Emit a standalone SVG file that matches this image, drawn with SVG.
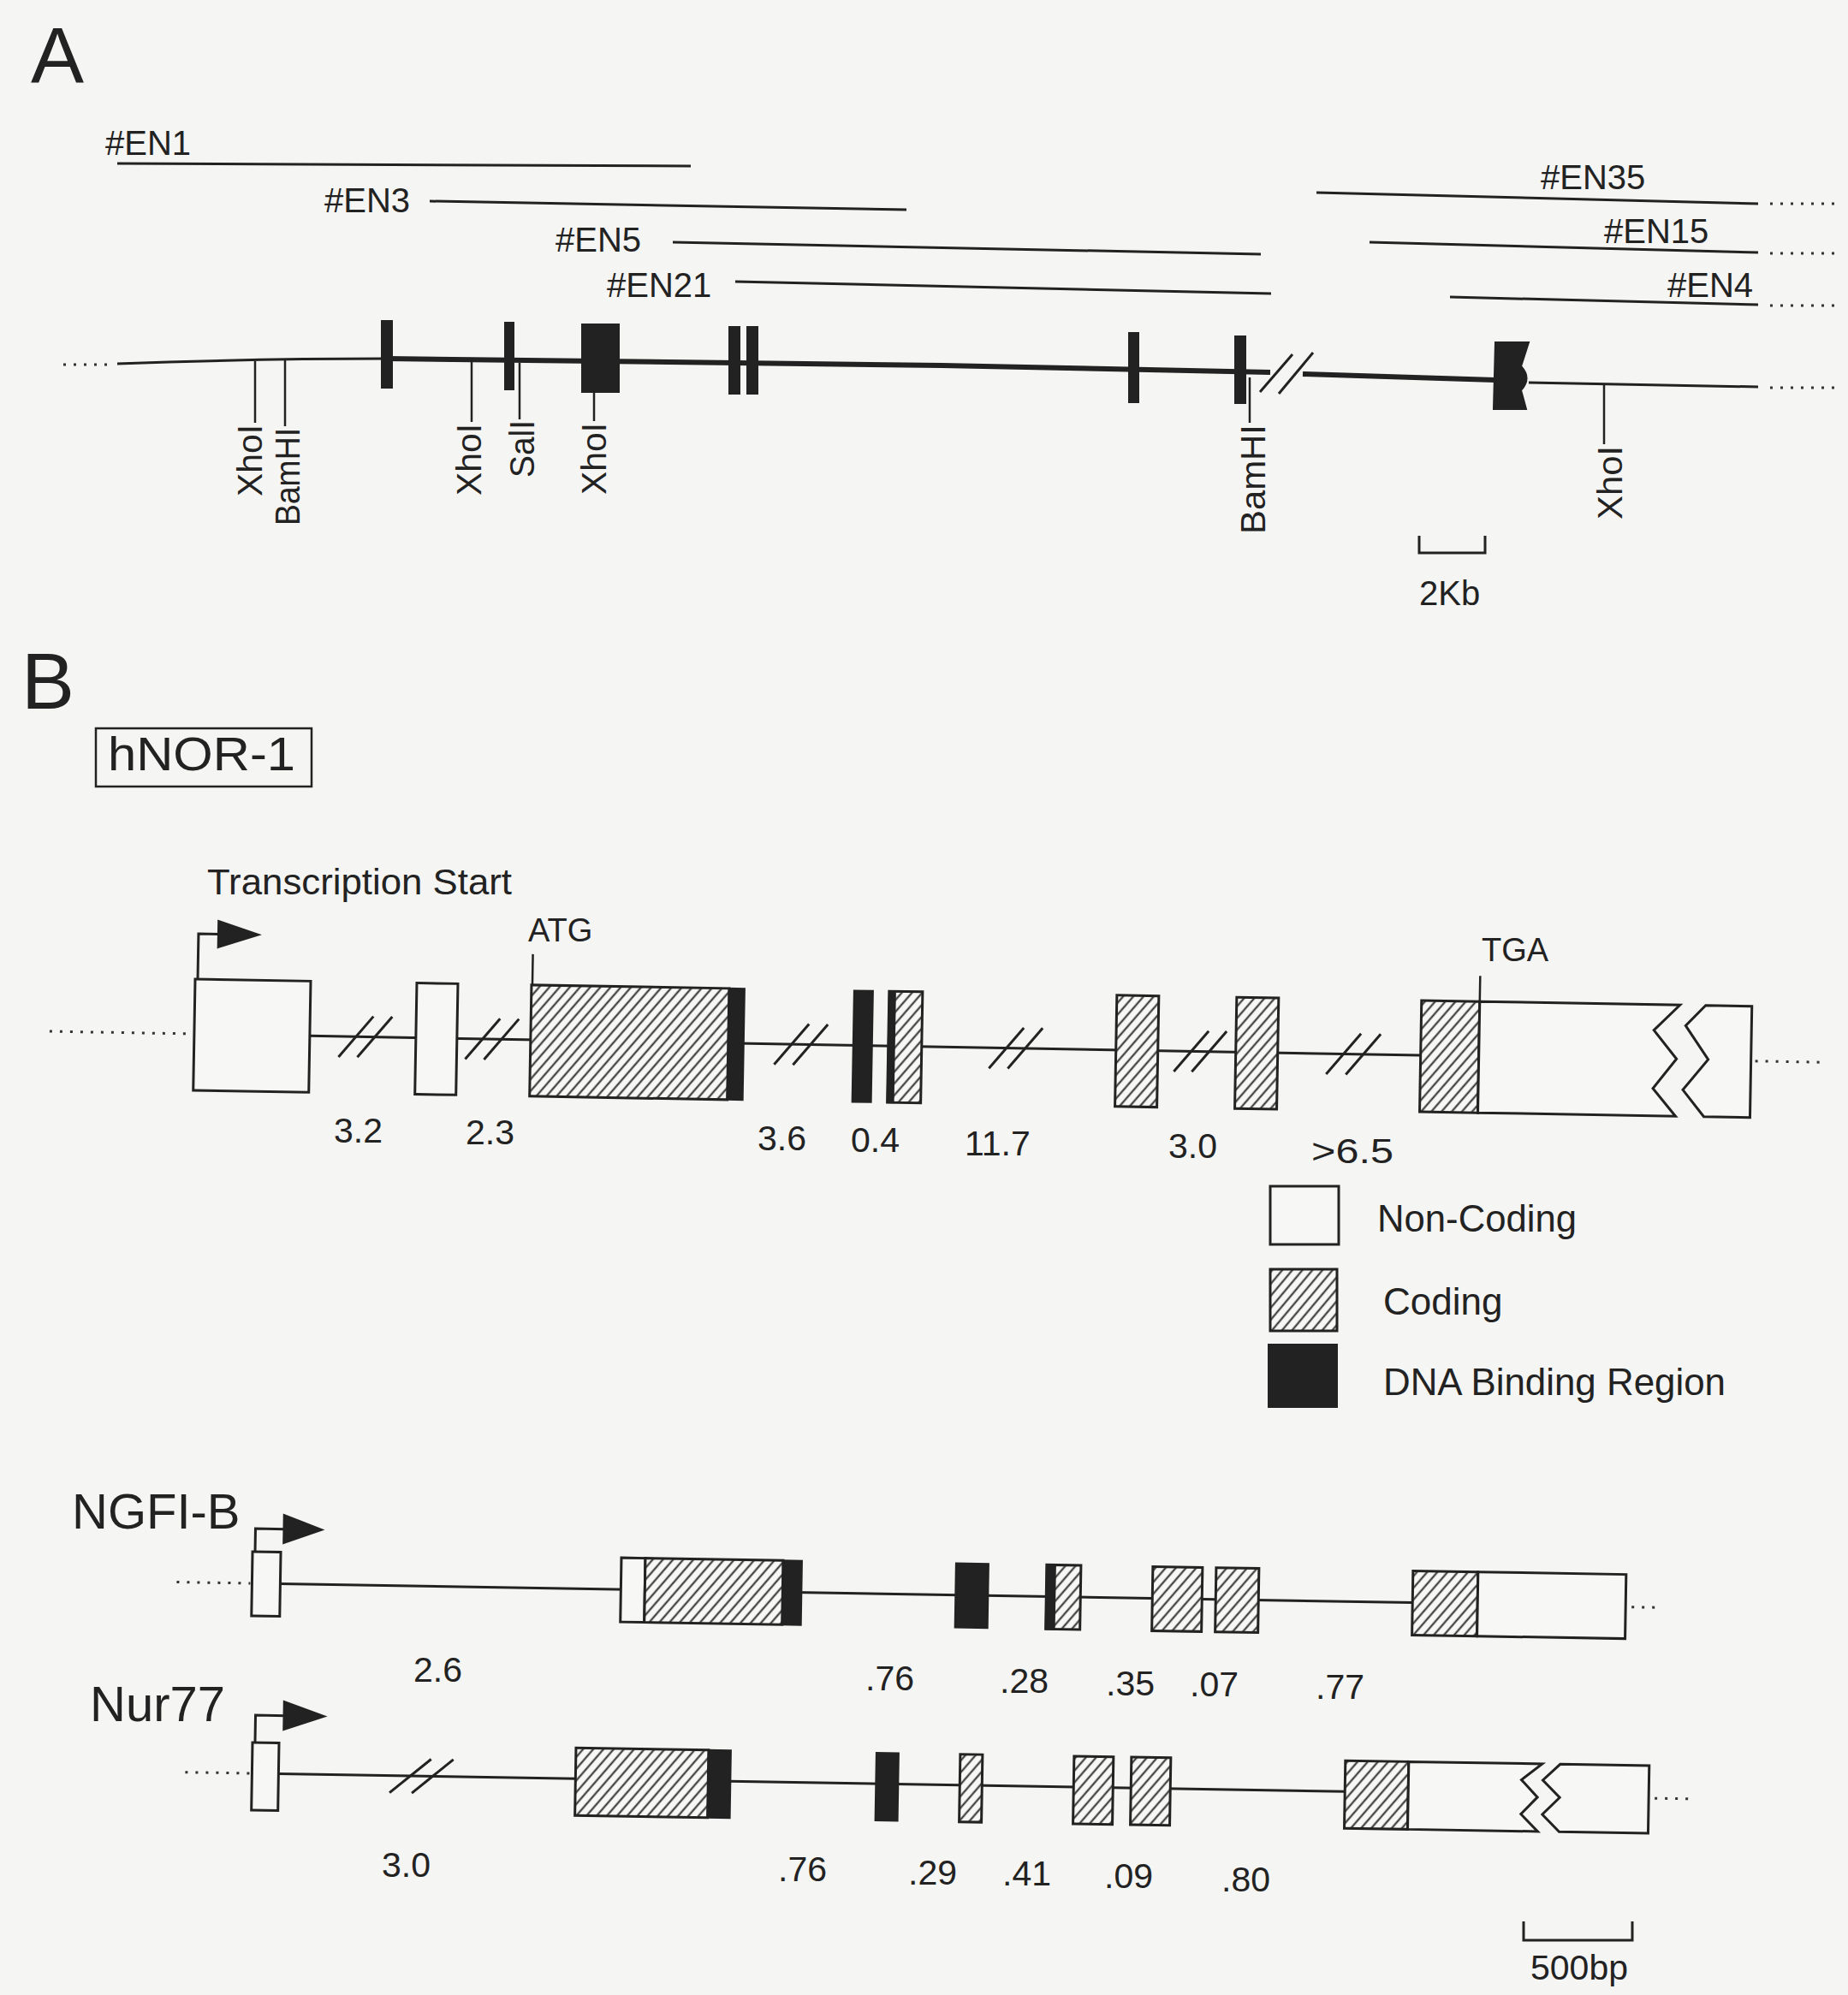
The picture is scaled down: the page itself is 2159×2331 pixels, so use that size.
<svg xmlns="http://www.w3.org/2000/svg" width="2159" height="2331" viewBox="0 0 2159 2331">
<defs>
<pattern id="hatch" patternUnits="userSpaceOnUse" width="9" height="9" patternTransform="rotate(40)">
<rect width="9" height="9" fill="#f7f7f5"/>
<line x1="4.5" y1="0" x2="4.5" y2="9" stroke="#2a2a2a" stroke-width="2"/>
</pattern>
</defs>
<style>
.ln{stroke:#222;stroke-width:3;fill:none}
.thk{stroke:#222;stroke-width:6;fill:none}
.tk{stroke:#222;stroke-width:2.5;fill:none}
.wh{fill:#f7f7f5;stroke:#222;stroke-width:3}
.ht{fill:url(#hatch);stroke:#222;stroke-width:3}
.bk{fill:#222;stroke:#222;stroke-width:2}
.dot{stroke:#333;stroke-width:3;stroke-dasharray:3 9;fill:none}
.t{font-family:"Liberation Sans",Arial,sans-serif;fill:#222}
.big{font-size:93px}
.en{font-size:40px}
.rs{font-size:40px}
.num{font-size:41px}
.lg{font-size:44px}
.nm{font-size:58px}
</style>
<rect width="2159" height="2331" fill="#f5f5f3"/>

<!-- Panel A -->
<text class="t big" x="36" y="97">A</text>

<g id="clones">
<text class="t en" x="123" y="181">#EN1</text>
<line class="ln" x1="137" y1="191" x2="807" y2="194"/>
<text class="t en" x="379" y="248">#EN3</text>
<line class="ln" x1="502" y1="235" x2="1059" y2="245"/>
<text class="t en" x="649" y="294">#EN5</text>
<line class="ln" x1="786" y1="283" x2="1473" y2="297"/>
<text class="t en" x="709" y="347">#EN21</text>
<line class="ln" x1="859" y1="329" x2="1485" y2="343"/>
<text class="t en" x="1800" y="221">#EN35</text>
<line class="ln" x1="1538" y1="225" x2="2054" y2="238"/>
<line class="dot" x1="2068" y1="238" x2="2145" y2="238"/>
<text class="t en" x="1874" y="284">#EN15</text>
<line class="ln" x1="1600" y1="283" x2="2054" y2="295"/>
<line class="dot" x1="2068" y1="296" x2="2145" y2="296"/>
<text class="t en" x="1948" y="347">#EN4</text>
<line class="ln" x1="1694" y1="347" x2="2054" y2="356"/>
<line class="dot" x1="2068" y1="357" x2="2145" y2="357"/>
</g>

<g id="genomic-map">
<line class="dot" x1="74" y1="426" x2="125" y2="426"/>
<path class="ln" d="M137,425 Q300,419 452,419"/>
<path class="thk" d="M452,419 L1100,427 L1484,435"/>
<line class="ln" x1="1472" y1="458" x2="1510" y2="414"/>
<line class="ln" x1="1494" y1="460" x2="1534" y2="412"/>
<path class="thk" d="M1522,437 L1747,444"/>
<path class="ln" d="M1786,447 L2054,452"/>
<line class="dot" x1="2068" y1="453" x2="2145" y2="453"/>
<rect class="bk" x="446" y="375" width="12" height="78"/>
<rect class="bk" x="590" y="377" width="10" height="78"/>
<rect class="bk" x="680" y="379" width="43" height="79"/>
<rect class="bk" x="852" y="382" width="12" height="78"/>
<rect class="bk" x="873" y="382" width="12" height="78"/>
<rect class="bk" x="1319" y="389" width="11" height="81"/>
<rect class="bk" x="1443" y="393" width="12" height="78"/>
<path class="bk" d="M1747,400 L1786,400 L1777,428 Q1790,442 1777,456 L1783,478 L1745,478 Z"/>
</g>

<g id="restriction-sites">
<line class="tk" x1="298" y1="422" x2="298" y2="494"/>
<text class="t rs" transform="translate(306,496) rotate(-90)" text-anchor="end" textLength="84" lengthAdjust="spacingAndGlyphs">XhoI</text>
<line class="tk" x1="333" y1="421" x2="333" y2="498"/>
<text class="t rs" transform="translate(350,500) rotate(-90)" text-anchor="end" textLength="114" lengthAdjust="spacingAndGlyphs">BamHI</text>
<line class="tk" x1="551" y1="423" x2="551" y2="493"/>
<text class="t rs" transform="translate(562,495) rotate(-90)" text-anchor="end" textLength="84" lengthAdjust="spacingAndGlyphs">XhoI</text>
<line class="tk" x1="607" y1="424" x2="607" y2="490"/>
<text class="t rs" transform="translate(624,491) rotate(-90)" text-anchor="end" textLength="67" lengthAdjust="spacingAndGlyphs">SalI</text>
<line class="tk" x1="694" y1="458" x2="694" y2="492"/>
<text class="t rs" transform="translate(708,494) rotate(-90)" text-anchor="end" textLength="84" lengthAdjust="spacingAndGlyphs">XhoI</text>
<line class="tk" x1="1460" y1="441" x2="1460" y2="494"/>
<text class="t rs" transform="translate(1478,496) rotate(-90)" text-anchor="end" textLength="128" lengthAdjust="spacingAndGlyphs">BamHI</text>
<line class="tk" x1="1874" y1="449" x2="1874" y2="519"/>
<text class="t rs" transform="translate(1895,521) rotate(-90)" text-anchor="end" textLength="86" lengthAdjust="spacingAndGlyphs">XhoI</text>
</g>

<g id="scale-2kb">
<path class="ln" d="M1658,626 V646 H1735 V626"/>
<text class="t rs" x="1658" y="707">2Kb</text>
</g>

<!-- Panel B -->
<text class="t big" x="25" y="828">B</text>
<g id="hnor1-label">
<rect x="112" y="851" width="252" height="68" fill="none" stroke="#222" stroke-width="2.5"/>
<text class="t" x="126" y="900" font-size="56" textLength="219" lengthAdjust="spacingAndGlyphs">hNOR-1</text>
</g>

<g id="hnor1-gene" transform="rotate(1 228 1145)">
<line class="dot" x1="59" y1="1208" x2="224" y2="1208"/>
<line class="ln" x1="363" y1="1208" x2="1661" y2="1208"/>
<g id="hnor1-breaks">
<line class="ln" x1="397" y1="1232" x2="437" y2="1184"/>
<line class="ln" x1="419" y1="1232" x2="459" y2="1184"/>
<line class="ln" x1="545" y1="1232" x2="585" y2="1184"/>
<line class="ln" x1="567" y1="1232" x2="607" y2="1184"/>
<line class="ln" x1="906" y1="1232" x2="946" y2="1184"/>
<line class="ln" x1="928" y1="1232" x2="968" y2="1184"/>
<line class="ln" x1="1157" y1="1232" x2="1197" y2="1184"/>
<line class="ln" x1="1179" y1="1232" x2="1219" y2="1184"/>
<line class="ln" x1="1373" y1="1232" x2="1413" y2="1184"/>
<line class="ln" x1="1394" y1="1232" x2="1434" y2="1184"/>
<line class="ln" x1="1551" y1="1232" x2="1591" y2="1184"/>
<line class="ln" x1="1574" y1="1232" x2="1614" y2="1184"/>
</g>
<g id="hnor1-tss">
<polyline class="ln" points="231,1144 231,1091 256,1091"/>
<polygon fill="#222" points="253,1074 305,1091 253,1108"/>
</g>
<rect class="wh" x="228" y="1144" width="135" height="130"/>
<rect class="wh" x="487" y="1144" width="48" height="130"/>
<rect class="ht" x="621" y="1144" width="231" height="130"/>
<rect class="bk" x="852" y="1144" width="18" height="130"/>
<line class="tk" x1="622" y1="1144" x2="622" y2="1108"/>
<rect class="bk" x="998" y="1144" width="22" height="130"/>
<rect class="ht" x="1039" y="1144" width="39" height="130"/>
<rect class="bk" x="1039" y="1144" width="7" height="130"/>
<rect class="ht" x="1305" y="1144" width="49" height="130"/>
<rect class="ht" x="1445" y="1144" width="49" height="130"/>
<rect class="ht" x="1661" y="1144" width="68" height="130"/>
<path class="wh" d="M1729,1144 L1963,1144 L1933,1174 L1960,1207 L1933,1242 L1960,1274 L1729,1274 Z"/>
<path class="wh" d="M1993,1144 L2047,1144 L2047,1274 L1993,1274 L1968,1243 L1997,1207 L1970,1168 Z"/>
<line class="tk" x1="1729" y1="1144" x2="1729" y2="1114"/>
<line class="dot" x1="2052" y1="1208" x2="2128" y2="1208"/>
</g>

<g id="hnor1-labels">
<text class="t" x="242" y="1045" font-size="43" textLength="356" lengthAdjust="spacingAndGlyphs">Transcription Start</text>
<text class="t" x="617" y="1100" font-size="38">ATG</text>
<text class="t" x="1731" y="1123" font-size="38">TGA</text>
<text class="t num" x="390" y="1335">3.2</text>
<text class="t num" x="544" y="1337">2.3</text>
<text class="t num" x="885" y="1344">3.6</text>
<text class="t num" x="994" y="1346">0.4</text>
<text class="t num" x="1127" y="1350">11.7</text>
<text class="t num" x="1365" y="1353">3.0</text>
<text class="t num" x="1532" y="1359" textLength="96" lengthAdjust="spacingAndGlyphs">&gt;6.5</text>
</g>

<g id="legend">
<rect class="wh" x="1484" y="1386" width="80" height="68"/>
<text class="t lg" x="1609" y="1439" textLength="233" lengthAdjust="spacingAndGlyphs">Non-Coding</text>
<rect class="ht" x="1484" y="1483" width="78" height="72"/>
<text class="t lg" x="1616" y="1536">Coding</text>
<rect class="bk" x="1482" y="1571" width="80" height="73"/>
<text class="t lg" x="1616" y="1630" textLength="400" lengthAdjust="spacingAndGlyphs">DNA Binding Region</text>
</g>

<g id="ngfib">
<text class="t nm" x="84" y="1786">NGFI-B</text>
<g transform="rotate(0.95 295 1815)">
<line class="dot" x1="207" y1="1850" x2="293" y2="1850"/>
<line class="ln" x1="328" y1="1850" x2="1651" y2="1850"/>
<polyline class="ln" points="298,1813 298,1786 333,1786"/>
<polygon fill="#222" points="330,1768 379,1786 330,1804"/>
<rect class="wh" x="295" y="1813" width="33" height="75"/>
<rect class="wh" x="726" y="1813" width="28" height="75"/>
<rect class="ht" x="754" y="1813" width="161" height="75"/>
<rect class="bk" x="915" y="1813" width="22" height="75"/>
<rect class="bk" x="1117" y="1813" width="38" height="75"/>
<rect class="ht" x="1223" y="1813" width="40" height="75"/>
<rect class="bk" x="1223" y="1813" width="10" height="75"/>
<rect class="ht" x="1347" y="1813" width="58" height="75"/>
<rect class="ht" x="1421" y="1813" width="50" height="75"/>
<rect class="ht" x="1651" y="1813" width="76" height="75"/>
<rect class="wh" x="1727" y="1813" width="173" height="75"/>
<line class="dot" x1="1907" y1="1851" x2="1942" y2="1851"/>
</g>
<text class="t num" x="483" y="1965">2.6</text>
<text class="t num" x="1011" y="1975">.76</text>
<text class="t num" x="1168" y="1978">.28</text>
<text class="t num" x="1292" y="1981">.35</text>
<text class="t num" x="1390" y="1982">.07</text>
<text class="t num" x="1537" y="1985">.77</text>
</g>

<g id="nur77">
<text class="t nm" x="105" y="2011">Nur77</text>
<g transform="rotate(0.95 295 2036)">
<line class="dot" x1="217" y1="2072" x2="293" y2="2072"/>
<line class="ln" x1="326" y1="2072" x2="1572" y2="2072"/>
<line class="ln" x1="456" y1="2092" x2="504" y2="2052"/>
<line class="ln" x1="482" y1="2092" x2="530" y2="2052"/>
<polyline class="ln" points="298,2036 298,2004 334,2004"/>
<polygon fill="#222" points="330,1986 382,2004 330,2022"/>
<rect class="wh" x="295" y="2036" width="31" height="79"/>
<rect class="ht" x="673" y="2036" width="155" height="79"/>
<rect class="bk" x="828" y="2036" width="26" height="79"/>
<rect class="bk" x="1024" y="2036" width="26" height="79"/>
<rect class="ht" x="1122" y="2036" width="26" height="79"/>
<rect class="ht" x="1255" y="2036" width="46" height="79"/>
<rect class="ht" x="1322" y="2036" width="46" height="79"/>
<rect class="ht" x="1572" y="2036" width="74" height="79"/>
<path class="wh" d="M1646,2036 L1802,2036 L1778,2055 L1797,2075 L1778,2095 L1798,2115 L1646,2115 Z"/>
<path class="wh" d="M1823,2036 L1927,2036 L1927,2115 L1823,2115 L1803,2095 L1823,2075 L1803,2055 Z"/>
<line class="dot" x1="1934" y1="2074" x2="1976" y2="2074"/>
</g>
<text class="t num" x="446" y="2193">3.0</text>
<text class="t num" x="909" y="2198">.76</text>
<text class="t num" x="1061" y="2202">.29</text>
<text class="t num" x="1171" y="2203">.41</text>
<text class="t num" x="1290" y="2206">.09</text>
<text class="t num" x="1427" y="2210">.80</text>
</g>

<g id="scale-500bp">
<path class="ln" d="M1780,2245 V2267 H1907 V2245"/>
<text class="t num" x="1788" y="2313">500bp</text>
</g>
</svg>
